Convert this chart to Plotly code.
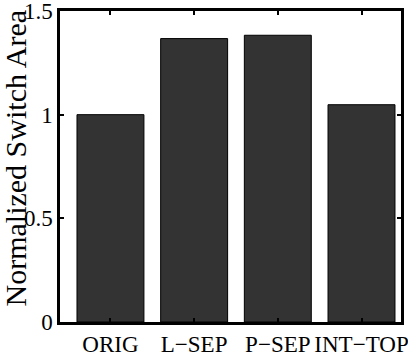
import plotly.graph_objects as go

categories = ["ORIG", "L\u2212SEP", "P\u2212SEP", "INT\u2212TOP"]
values = [1.0, 1.367, 1.383, 1.048]
y_ticks = [0, 0.5, 1, 1.5]
y_tick_labels = ["0", "0.5", "1", "1.5"]
y_title = "Normalized Switch Area"

fig = go.Figure()
fig.add_trace(go.Bar(
    x=categories, y=values,
    marker=dict(color="#333333", line=dict(color="#000000", width=1)),
    width=0.8,
))

font_family = "'Liberation Serif', 'Times New Roman', Times, serif"
fig.update_layout(
    width=408, height=360,
    margin=dict(l=60, r=7, t=11, b=38, autoexpand=False),
    plot_bgcolor="white", paper_bgcolor="white",
    showlegend=False,
    font=dict(family=font_family, size=23, color="black"),
)
fig.update_xaxes(
    type="category",
    range=[-0.603, 3.472],
    showline=True, linecolor="black", linewidth=2.5, mirror="ticks",
    ticks="inside", ticklen=4, tickcolor="black", tickwidth=2,
    showgrid=False, zeroline=False, automargin=False,
    tickfont=dict(family=font_family, size=23, color="black"),
    ticklabeloverflow="allow",
)
fig.update_yaxes(
    range=[0, 1.5],
    tickvals=y_ticks, ticktext=y_tick_labels,
    showline=True, linecolor="black", linewidth=2.5, mirror="ticks",
    ticks="inside", ticklen=4, tickcolor="black", tickwidth=2,
    showgrid=False, zeroline=False, automargin=False,
    tickfont=dict(family=font_family, size=23, color="black"),
    ticklabeloverflow="allow",
)
fig.add_annotation(
    text=y_title, textangle=-90,
    xref="paper", yref="paper", x=0, y=0.5,
    xanchor="center", yanchor="middle",
    xshift=-45, yshift=8,
    showarrow=False,
    font=dict(family=font_family, size=30, color="black"),
)

fig.write_html("out.html")
